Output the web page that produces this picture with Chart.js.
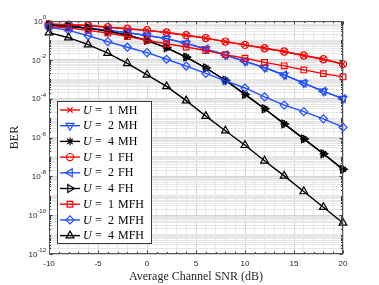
<!DOCTYPE html>
<html>
<head>
<meta charset="utf-8">
<script src="https://cdn.jsdelivr.net/npm/chart.js@4.4.1/dist/chart.umd.min.js"></script>
<style>
html, body { margin: 0; padding: 0; background: #fff; }
#wrap { width: 379px; height: 285px; position: relative; }
</style>
</head>
<body>
<div id="wrap"><canvas id="berChart" width="379" height="285"></canvas></div>
<script>
// values
const snr = [-10, -8, -6, -4, -2, 0, 2, 4, 6, 8, 10, 12, 14, 16, 18, 20];

const berU1MH  = [0.676, 0.646, 0.589, 0.479, 0.398, 0.331, 0.257, 0.186, 0.132, 0.0871, 0.0589, 0.0398, 0.0269, 0.0166, 0.0107, 6.03e-3];
const berU2MH  = [0.603, 0.525, 0.427, 0.331, 0.251, 0.178, 0.123, 0.0708, 0.0363, 0.0178, 8.32e-3, 3.98e-3, 1.66e-3, 6.31e-4, 2.40e-4, 1.0e-4];
const berU4MH  = [0.631, 0.537, 0.427, 0.302, 0.186, 0.1, 0.0417, 0.0138, 3.80e-3, 8.91e-4, 1.66e-4, 3.02e-5, 5.01e-6, 8.51e-7, 1.45e-7, 2.29e-8];
const berU1FH  = [0.676, 0.646, 0.589, 0.479, 0.398, 0.331, 0.257, 0.186, 0.132, 0.0871, 0.0589, 0.0398, 0.0269, 0.0166, 0.0107, 6.03e-3];
const berU2FH  = [0.603, 0.525, 0.427, 0.331, 0.251, 0.178, 0.123, 0.0708, 0.0363, 0.0178, 8.32e-3, 3.98e-3, 1.66e-3, 6.31e-4, 2.40e-4, 1.0e-4];
const berU4FH  = [0.631, 0.537, 0.427, 0.302, 0.186, 0.1, 0.0417, 0.0138, 3.80e-3, 8.91e-4, 1.66e-4, 3.02e-5, 5.01e-6, 8.51e-7, 1.45e-7, 2.29e-8];
const berU1MFH = [0.525, 0.437, 0.331, 0.240, 0.158, 0.1, 0.0676, 0.0457, 0.0302, 0.0186, 0.0120, 7.41e-3, 4.90e-3, 3.02e-3, 1.95e-3, 1.32e-3];
const berU2MFH = [0.468, 0.331, 0.174, 0.0871, 0.0447, 0.0234, 0.0107, 4.79e-3, 2.0e-3, 8.32e-4, 3.55e-4, 1.23e-4, 4.68e-5, 2.14e-5, 9.12e-6, 3.39e-6];
const berU4MFH = [0.251, 0.138, 0.0603, 0.0224, 6.61e-3, 1.70e-3, 4.27e-4, 7.94e-5, 1.26e-5, 2.24e-6, 3.98e-7, 6.31e-8, 1.05e-8, 1.66e-9, 2.57e-10, 3.98e-11];

const seriesLabels = ['1 MH', '2 MH', '4 MH', '1 FH', '2 FH', '4 FH', '1 MFH', '2 MFH', '4 MFH'];

const xTicks = [-10, -5, 0, 5, 10, 15, 20];
const xTickLabels = ['-10', '-5', '0', '5', '10', '15', '20'];
const yTickExps = [0, -2, -4, -6, -8, -10, -12];
const yTickLabels = ['0', '-2', '-4', '-6', '-8', '-10', '-12'];

const RED = '#ff0000', BLUE = '#1f4fff', BLACK = '#000000';
const NONE = 'rgba(0,0,0,0)';
const SERIF = '"Liberation Serif", "DejaVu Serif", serif';
const SANS = '"Liberation Sans", Arial, sans-serif';

const styles = [
    { data: berU1MH,  color: RED,   shape: 'crossRot', rot: 0,   r: 3.8 },
    { data: berU2MH,  color: BLUE,  shape: 'triangle', rot: 180, r: 4.5 },
    { data: berU4MH,  color: BLACK, shape: 'star',     rot: 0,   r: 3.8 },
    { data: berU1FH,  color: RED,   shape: 'circle',   rot: 0,   r: 3.6 },
    { data: berU2FH,  color: BLUE,  shape: 'triangle', rot: 270, r: 4.5 },
    { data: berU4FH,  color: BLACK, shape: 'triangle', rot: 90,  r: 4.5 },
    { data: berU1MFH, color: RED,   shape: 'rect',     rot: 0,   r: 4.0 },
    { data: berU2MFH, color: BLUE,  shape: 'rectRot',  rot: 0,   r: 4.0 },
    { data: berU4MFH, color: BLACK, shape: 'triangle', rot: 0,   r: 4.5 }
];

const datasets = styles.map((s, i) => ({
    label: 'U = ' + seriesLabels[i],
    data: snr.map((v, k) => ({ x: v, y: s.data[k] })),
    borderColor: s.color,
    backgroundColor: NONE,
    borderWidth: 1.4,
    pointStyle: s.shape,
    pointRotation: s.rot,
    pointRadius: s.r,
    pointBorderWidth: 1.2,
    pointBorderColor: s.color,
    pointBackgroundColor: NONE,
    tension: 0,
    clip: false,
    order: styles.length - i
}));

const isMajorDecade = (v) => {
    const l = Math.log10(v);
    return Math.abs(l - Math.round(l)) < 1e-6 && Math.round(l) % 2 === 0;
};

// axes box, inside ticks, tick labels, titles and legend (MATLAB look)
const matlabAxes = {
    id: 'matlabAxes',
    afterDraw(chart) {
        const { ctx, chartArea: a, scales: { x, y } } = chart;
        const L = Math.round(a.left) + 0.5, R = Math.round(a.right) - 0.5;
        const T = Math.round(a.top) + 0.5, B = Math.round(a.bottom) - 0.5;
        ctx.save();

        ctx.strokeStyle = '#3a3a3a';
        ctx.lineWidth = 1;
        ctx.beginPath();
        for (let v = -10; v <= 20; v++) {
            const px = Math.round(x.getPixelForValue(v)) + 0.5;
            const len = v % 5 === 0 ? 3 : 1.5;
            ctx.moveTo(px, B); ctx.lineTo(px, B - len);
            ctx.moveTo(px, T); ctx.lineTo(px, T + len);
        }
        y.ticks.forEach(t => {
            const py = Math.round(y.getPixelForValue(t.value)) + 0.5;
            const len = isMajorDecade(t.value) ? 3 : 1.5;
            ctx.moveTo(L, py); ctx.lineTo(L + len, py);
            ctx.moveTo(R, py); ctx.lineTo(R - len, py);
        });
        ctx.stroke();
        ctx.strokeStyle = '#555';
        ctx.strokeRect(L, T, R - L, B - T);

        // tick labels
        ctx.fillStyle = '#262626';
        ctx.font = '8px ' + SANS;
        ctx.textAlign = 'center';
        ctx.textBaseline = 'middle';
        xTicks.forEach((v, i) => ctx.fillText(xTickLabels[i], x.getPixelForValue(v), a.bottom + 10));

        yTickExps.forEach((e, i) => {
            const py = y.getPixelForValue(Math.pow(10, e));
            ctx.font = '6px ' + SANS;
            const ew = ctx.measureText(yTickLabels[i]).width;
            const right = a.left - 3;
            ctx.textAlign = 'right';
            ctx.fillText(yTickLabels[i], right, py - 3.5);
            ctx.font = '8px ' + SANS;
            ctx.fillText('10', right - ew, py + 0.5);
        });

        // axis titles
        ctx.fillStyle = '#262626';
        ctx.font = '12px ' + SERIF;
        ctx.textAlign = 'center';
        ctx.fillText('Average Channel SNR (dB)', (a.left + a.right) / 2, a.bottom + 23);
        ctx.save();
        ctx.translate(15, (a.top + a.bottom) / 2);
        ctx.rotate(-Math.PI / 2);
        ctx.fillText('BER', 0, 0);
        ctx.restore();

        // legend
        const bx = 57.5, by = 101.5, bw = 94, bh = 142;
        ctx.fillStyle = '#fff';
        ctx.fillRect(bx, by, bw, bh);
        ctx.strokeStyle = '#3a3a3a';
        ctx.lineWidth = 1;
        ctx.strokeRect(bx, by, bw, bh);
        styles.forEach((s, i) => {
            const cy = 110 + i * 15.7;
            ctx.strokeStyle = s.color;
            ctx.lineWidth = 1.4;
            ctx.beginPath();
            ctx.moveTo(60, cy); ctx.lineTo(80, cy);
            ctx.stroke();
            ctx.fillStyle = NONE;
            ctx.lineWidth = 1.2;
            Chart.helpers.drawPoint(ctx, { pointStyle: s.shape, rotation: s.rot, radius: s.r, borderWidth: 1.2 }, 70, cy);

            ctx.fillStyle = '#000';
            ctx.textAlign = 'left';
            ctx.textBaseline = 'middle';
            ctx.font = 'italic 12px ' + SERIF;
            ctx.fillText('U', 83, cy + 0.5);
            ctx.font = '12px ' + SERIF;
            const parts = seriesLabels[i].split(' ');
            ctx.fillText('=', 95, cy + 0.5);
            ctx.fillText(parts[0], 108, cy + 0.5);
            ctx.fillText(parts[1], 118, cy + 0.5);
        });

        ctx.restore();
    }
};

new Chart(document.getElementById('berChart'), {
    type: 'line',
    data: { datasets },
    options: {
        responsive: false,
        animation: false,
        events: [],
        layout: { padding: { left: 0, right: 36, top: 21, bottom: 0 }, autoPadding: false },
        plugins: { legend: { display: false }, tooltip: { enabled: false } },
        scales: {
            x: {
                type: 'linear', min: -10, max: 20,
                afterBuildTicks: (sc) => {
                    const t = [];
                    for (let v = -10; v <= 20; v++) t.push({ value: v });
                    sc.ticks = t;
                },
                afterFit: (sc) => { sc.height = 31; },
                ticks: { display: false },
                grid: {
                    drawTicks: false,
                    color: (c) => (c.tick && c.tick.value % 5 === 0) ? '#d2d2d2' : '#e8e8e8'
                },
                border: { display: false }
            },
            y: {
                type: 'logarithmic', min: 1e-12, max: 1,
                afterBuildTicks: (sc) => {
                    const t = [];
                    for (let e = -12; e <= 0; e++) {
                        t.push({ value: Math.pow(10, e) });
                        if (e < 0) for (let m = 2; m <= 9; m++) t.push({ value: m * Math.pow(10, e) });
                    }
                    sc.ticks = t;
                },
                afterFit: (sc) => { sc.width = 49; },
                ticks: { display: false },
                grid: {
                    drawTicks: false,
                    color: (c) => (c.tick && isMajorDecade(c.tick.value)) ? '#d2d2d2' : '#e6e6e6'
                },
                border: { display: false }
            }
        }
    },
    plugins: [matlabAxes]
});
</script>
</body>
</html>
